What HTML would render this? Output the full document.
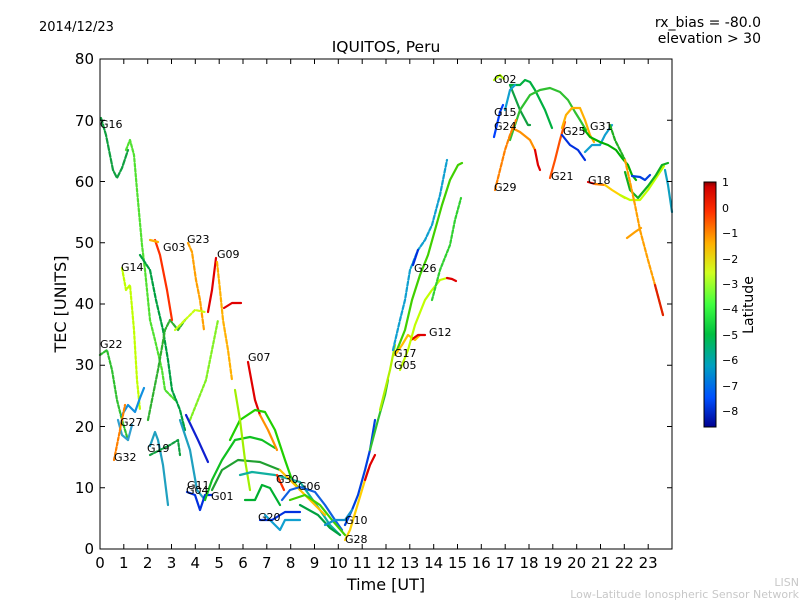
<!DOCTYPE html>
<html><head><meta charset="utf-8"><style>
html,body{margin:0;padding:0;background:#fff;}
svg{display:block;font-family:"DejaVu Sans","Liberation Sans",sans-serif;}
</style></head><body>
<svg width="800" height="600" viewBox="0 0 800 600" xmlns="http://www.w3.org/2000/svg">
<defs>
<linearGradient id="jet" x1="0" y1="0" x2="0" y2="1">
<stop offset="0" stop-color="#800000"/><stop offset="0.02" stop-color="#d00000"/>
<stop offset="0.12" stop-color="#ff3000"/><stop offset="0.25" stop-color="#ffb000"/>
<stop offset="0.37" stop-color="#d0ff20"/><stop offset="0.5" stop-color="#40ff40"/>
<stop offset="0.62" stop-color="#00c040"/><stop offset="0.75" stop-color="#00a0c0"/>
<stop offset="0.88" stop-color="#0050ff"/><stop offset="1" stop-color="#000090"/>
</linearGradient>
</defs>
<text x="39" y="31" font-size="13">2014/12/23</text>
<text x="761" y="27" font-size="14" text-anchor="end">rx_bias = -80.0</text>
<text x="761" y="43" font-size="14" text-anchor="end">elevation &gt; 30</text>
<text x="386" y="52" font-size="15.5" text-anchor="middle">IQUITOS, Peru</text>

<g fill="none" stroke-width="2.2" stroke-linejoin="round" stroke-linecap="round">
<!-- left region -->
<polyline stroke="#10a040" stroke-dasharray="5,2" points="101,118 106,135 113,170 117,178 122,168 128,150"/>
<polyline stroke="#50e030" stroke-dasharray="3,2" points="126,150 130,140 134,155 137,190 142,245 145,270 150,320 155,340 162,370 165,390 175,400"/>
<polyline stroke="#c0ff00" stroke-dasharray="3,2" points="122,268 126,290 130,285 134,330 137,380 140,410"/>
<polyline stroke="#00a040" stroke-dasharray="4,2" points="140,255 150,270 156,300 163,330 168,360 172,390 180,410 185,430"/>
<polyline stroke="#30b030" stroke-dasharray="4,2" points="148,420 152,400 158,370 165,330 170,320 178,330 185,320"/>
<polyline stroke="#ff3000" points="155,240 160,255 163,270 167,290 172,320"/>
<polyline stroke="#ffb000" points="150,240 158,242"/>
<polyline stroke="#ffa000" stroke-dasharray="4,2" points="188,243 192,252 196,280 200,300 204,330"/>
<polyline stroke="#e00000" points="208,312 212,290 216,258"/>
<polyline stroke="#ffb000" stroke-dasharray="4,2" points="217,262 220,290 223,320 228,350 232,380"/>
<polyline stroke="#e00000" points="224,308 232,303 241,303"/>
<polyline stroke="#c8ff10" stroke-dasharray="3,2" points="175,330 185,320 195,310 205,312"/>
<polyline stroke="#80f020" stroke-dasharray="3,2" points="190,420 198,400 206,380 212,350 218,320"/>
<polyline stroke="#30c030" stroke-dasharray="3,2" points="100,355 107,350 112,370 117,400 122,420 128,440"/>
<polyline stroke="#1090e0" points="122,415 128,405 135,412 140,398 144,388"/>
<polyline stroke="#30a0d0" points="118,420 122,435 128,440 132,425"/>
<polyline stroke="#ff8000" stroke-dasharray="3,2" points="114,460 118,440 122,420 125,405"/>
<polyline stroke="#20a0c0" points="150,446 155,432 158,440 163,465 168,505"/>
<polyline stroke="#10a040" stroke-dasharray="3,2" points="150,455 160,450 170,445 178,440 180,455"/>
<polyline stroke="#1fa0c0" points="180,420 190,450 197,490 205,500"/>
<polyline stroke="#1020d0" points="186,415 198,440 208,462"/>
<polyline stroke="#0030e0" points="187,492 195,495 200,510 205,495 212,495"/>
<polyline stroke="#10c020" points="205,500 212,480 222,460 235,440 250,437 262,440 275,448"/>
<polyline stroke="#20a030" points="212,490 222,470 238,460 260,462 280,470"/>
<polyline stroke="#e00000" points="248,362 255,400 260,415"/>
<polyline stroke="#ff9000" points="260,415 268,430 277,450"/>
<polyline stroke="#20d000" points="230,440 240,420 255,410 265,412 275,430 285,460 292,480 300,490"/>
<polyline stroke="#a0f000" points="235,390 240,420 245,460 250,490"/>
<polyline stroke="#10b0a0" points="240,475 252,472 275,475 300,482 320,510 330,525 340,535"/>
<polyline stroke="#00b030" points="245,500 255,500 262,485 270,488 280,505"/>
<polyline stroke="#10a0d0" points="265,515 275,525 280,530 285,520 300,520"/>
<polyline stroke="#ffc000" points="280,470 290,480 300,490 310,500 325,515"/>
<polyline stroke="#ff3000" points="277,475 284,490"/>
<polyline stroke="#1060e0" points="282,500 290,490 300,487 315,492 325,505 335,520 342,530"/>
<polyline stroke="#40d000" points="290,500 305,495 320,505 332,520 345,535"/>
<polyline stroke="#0030e0" points="260,520 272,520 285,512 300,512"/>
<polyline stroke="#00a040" points="300,505 318,515 330,528 340,535"/>
<!-- middle rise -->
<polyline stroke="#ffd000" points="345,540 350,530 356,510 362,490 368,470"/>
<polyline stroke="#0040e0" points="345,525 352,510 358,495 365,470 370,450 375,420"/>
<polyline stroke="#1090d0" points="325,525 335,520 345,520 352,510"/>
<polyline stroke="#e00000" points="365,480 370,465 375,455"/>
<polyline stroke="#30c030" points="370,450 378,420 385,395 388,380"/>
<polyline stroke="#b0f000" points="380,410 390,370 395,345"/>
<polyline stroke="#10a0d0" stroke-dasharray="4,2" points="393,350 400,320 405,300 410,270 418,250 425,240 432,225 440,195 447,160"/>
<polyline stroke="#0030e0" points="413,265 418,250"/>
<polyline stroke="#40d000" points="395,355 405,330 412,300 420,275 428,255 435,230 442,205 450,180 458,165 462,163"/>
<polyline stroke="#ffc000" points="395,355 402,345 408,335 415,340 420,335"/>
<polyline stroke="#e00000" points="411,340 418,335 425,335"/>
<polyline stroke="#c0ff00" points="400,370 408,350 415,325 425,300 432,290 440,280 447,278"/>
<polyline stroke="#e00000" points="447,278 452,279 456,281"/>
<polyline stroke="#30d030" stroke-dasharray="3,2" points="432,300 440,270 450,245 455,220 461,198"/>
<!-- right -->
<polyline stroke="#b0ff00" points="494,80 500,75 504,79"/>
<polyline stroke="#10a040" points="510,85 520,110 528,125 530,125"/>
<polyline stroke="#00b040" points="510,85 520,85 525,80 530,82 535,90 540,100 545,110 552,128"/>
<polyline stroke="#30c030" points="510,140 520,110 530,95 540,90 550,88 560,92 568,100 575,112 580,120 586,130"/>
<polyline stroke="#10a0d0" points="505,110 510,90 515,85"/>
<polyline stroke="#ff9000" points="512,128 520,132 530,140 535,150"/>
<polyline stroke="#e00000" points="535,150 538,165 540,170"/>
<polyline stroke="#ff8000" stroke-dasharray="4,2" points="495,190 500,170 505,150 510,135 516,120"/>
<polyline stroke="#0040ff" points="494,137 500,112 503,105"/>
<polyline stroke="#ff5000" points="550,178 555,160 560,140 565,122"/>
<polyline stroke="#ffb000" points="562,128 566,115 572,108 580,108 585,120 590,135 594,142"/>
<polyline stroke="#0030e0" points="562,135 570,145 578,150 585,160"/>
<polyline stroke="#10a0d0" points="585,152 592,145 600,145 605,135 612,125"/>
<polyline stroke="#00b000" points="583,128 590,137 600,142 608,145 616,150 622,158 628,165 632,175 636,180"/>
<polyline stroke="#20b020" stroke-dasharray="4,2" points="610,125 615,140 620,150 625,160"/>
<polyline stroke="#e00000" points="588,182 595,184"/>
<polyline stroke="#ff8000" points="595,184 605,185"/>
<polyline stroke="#ffd000" points="605,185 612,190 620,195 625,198"/>
<polyline stroke="#c0ff00" points="620,195 630,200 640,200 648,190 658,175 664,166"/>
<polyline stroke="#10b020" points="625,172 630,190 638,198 648,186 656,175 662,165 668,163"/>
<polyline stroke="#0040e0" points="632,176 640,177 645,180 650,175"/>
<polyline stroke="#ffa000" stroke-dasharray="4,2" points="625,160 630,182 635,205 640,230 648,260 655,285 663,315"/>
<polyline stroke="#e02000" points="655,285 663,315"/>
<polyline stroke="#ffa000" points="627,238 635,232 641,228"/>
<polyline stroke="#10a0c0" points="665,170 668,185 672,212"/>
</g>

<g font-size="11" fill="#000">
<text x="100" y="128">G16</text><text x="163" y="251">G03</text><text x="187" y="243">G23</text>
<text x="217" y="258">G09</text><text x="121" y="271">G14</text><text x="100" y="348">G22</text>
<text x="248" y="361">G07</text><text x="120" y="426">G27</text><text x="147" y="452">G19</text>
<text x="114" y="461">G32</text><text x="187" y="489">G11</text><text x="186" y="494">G04</text>
<text x="211" y="500">G01</text><text x="276" y="483">G30</text><text x="298" y="490">G06</text>
<text x="258" y="521">G20</text><text x="345" y="524">G10</text><text x="345" y="543">G28</text>
<text x="394" y="357">G17</text><text x="394" y="369">G05</text><text x="414" y="272">G26</text>
<text x="429" y="336">G12</text><text x="494" y="83">G02</text><text x="494" y="116">G15</text>
<text x="494" y="130">G24</text><text x="494" y="191">G29</text><text x="563" y="135">G25</text>
<text x="590" y="130">G31</text><text x="551" y="180">G21</text><text x="588" y="184">G18</text>
</g>

<!-- axes -->
<rect x="100" y="59" width="572" height="490" fill="none" stroke="#000" stroke-width="1"/>
<g stroke="#000" stroke-width="1">
<path d="M100,487.75h5M100,426.5h5M100,365.25h5M100,304h5M100,242.75h5M100,181.5h5M100,120.25h5
M672,487.75h-5M672,426.5h-5M672,365.25h-5M672,304h-5M672,242.75h-5M672,181.5h-5M672,120.25h-5"/>
<path d="M123.8,549v-5M147.7,549v-5M171.5,549v-5M195.3,549v-5M219.2,549v-5M243,549v-5M266.8,549v-5M290.7,549v-5M314.5,549v-5M338.3,549v-5M362.2,549v-5M386,549v-5M409.8,549v-5M433.7,549v-5M457.5,549v-5M481.3,549v-5M505.2,549v-5M529,549v-5M552.8,549v-5M576.7,549v-5M600.5,549v-5M624.3,549v-5M648.2,549v-5
M123.8,59v5M147.7,59v5M171.5,59v5M195.3,59v5M219.2,59v5M243,59v5M266.8,59v5M290.7,59v5M314.5,59v5M338.3,59v5M362.2,59v5M386,59v5M409.8,59v5M433.7,59v5M457.5,59v5M481.3,59v5M505.2,59v5M529,59v5M552.8,59v5M576.7,59v5M600.5,59v5M624.3,59v5M648.2,59v5"/>
</g>
<g font-size="15" text-anchor="end">
<text x="94" y="554">0</text><text x="94" y="493">10</text><text x="94" y="432">20</text>
<text x="94" y="370">30</text><text x="94" y="309">40</text><text x="94" y="248">50</text>
<text x="94" y="187">60</text><text x="94" y="126">70</text><text x="94" y="64">80</text>
</g>
<g font-size="15" text-anchor="middle">
<text x="100" y="568">0</text><text x="123.8" y="568">1</text><text x="147.7" y="568">2</text><text x="171.5" y="568">3</text>
<text x="195.3" y="568">4</text><text x="219.2" y="568">5</text><text x="243" y="568">6</text><text x="266.8" y="568">7</text>
<text x="290.7" y="568">8</text><text x="314.5" y="568">9</text><text x="338.3" y="568">10</text><text x="362.2" y="568">11</text>
<text x="386" y="568">12</text><text x="409.8" y="568">13</text><text x="433.7" y="568">14</text><text x="457.5" y="568">15</text>
<text x="481.3" y="568">16</text><text x="505.2" y="568">17</text><text x="529" y="568">18</text><text x="552.8" y="568">19</text>
<text x="576.7" y="568">20</text><text x="600.5" y="568">21</text><text x="624.3" y="568">22</text><text x="648.2" y="568">23</text>
</g>
<text x="386" y="590" font-size="16" text-anchor="middle">Time [UT]</text>
<text transform="translate(66,304) rotate(-90)" font-size="16" text-anchor="middle">TEC [UNITS]</text>

<!-- colorbar -->
<rect x="704" y="182" width="12" height="245" fill="url(#jet)" stroke="#000" stroke-width="1"/>
<g font-size="11">
<text x="722" y="186">1</text><text x="722" y="212">0</text><text x="722" y="237">−1</text>
<text x="722" y="263">−2</text><text x="722" y="288">−3</text><text x="722" y="313">−4</text>
<text x="722" y="339">−5</text><text x="722" y="364">−6</text><text x="722" y="390">−7</text>
<text x="722" y="415">−8</text>
</g>
<text transform="translate(753,305) rotate(-90)" font-size="14" text-anchor="middle">Latitude</text>

<text x="799" y="586" font-size="11" fill="#c8c8c8" text-anchor="end">LISN</text>
<text x="799" y="598" font-size="11" fill="#c8c8c8" text-anchor="end">Low-Latitude Ionospheric Sensor Network</text>
</svg>
</body></html>
